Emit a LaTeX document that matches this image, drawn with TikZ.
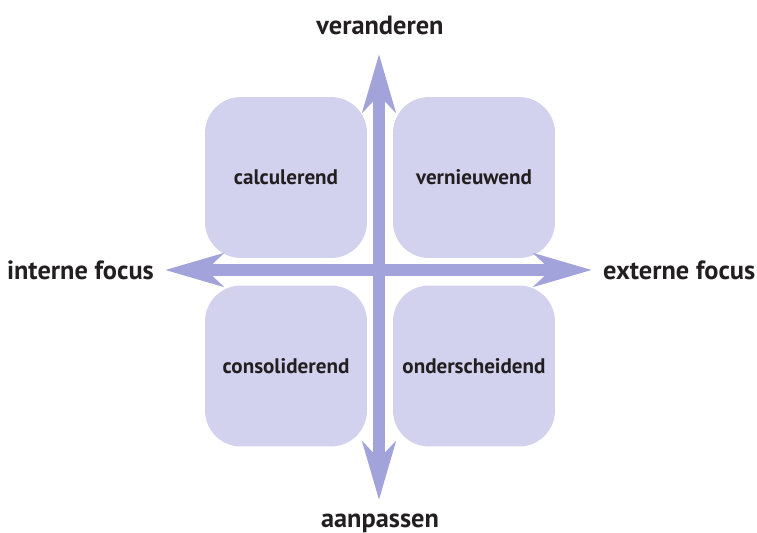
\documentclass[tikz,border=0pt]{standalone}
\usepackage{fontspec}
\setmainfont{PT Sans}
\usetikzlibrary{arrows.meta}

\definecolor{vlak}{HTML}{D2D1EE}
\definecolor{pijl}{HTML}{A2A3DA}
\definecolor{tekst}{HTML}{231F20}

\tikzset{
    kwadrant/.style={fill=vlak, rounded corners=0.72cm, minimum width=3.24cm,
        minimum height=3.22cm, text=tekst, font=\bfseries\fontsize{12}{14}\selectfont},
    aslabel/.style={text=tekst, font=\bfseries\fontsize{15}{18}\selectfont},
    as/.style={draw=pijl, line width=0.25cm,
        {Stealth[length=1.16cm, width=0.66cm, inset=0.34cm]}-{Stealth[length=1.16cm, width=0.66cm, inset=0.34cm]}}
}

\begin{document}
\begin{tikzpicture}[x=0.02cm, y=-0.02cm]
        \useasboundingbox (0, 0) rectangle (757, 533);
        %\draw[color=lightgray] (0, 0) grid[step=50] (757, 533);
        \node[kwadrant] (calc) at (286, 177.5) {calculerend};
        \node[kwadrant] (vern) at (474, 177.5) {vernieuwend};
        \node[kwadrant] (cons) at (286, 366) {consoliderend};
        \node[kwadrant] (onde) at (474, 366) {onderscheidend};
        \coordinate (boven) at (379, 54);
        \coordinate (onder) at (379, 500);
        \coordinate (links) at (165, 270);
        \coordinate (rechts) at (592, 270);
        \draw[as] (onder) -- (boven);
        \draw[as] (links) -- (rechts);
        \node[aslabel, anchor=base] (veranderen) at (380, 35) {veranderen};
        \node[aslabel, anchor=base] (aanpassen) at (380, 527) {aanpassen};
        \node[aslabel, left=0.1cm] (intern) at (links) {interne focus};
        \node[aslabel, right=0.1cm] (extern) at (rechts) {externe focus};
\end{tikzpicture}
\end{document}
